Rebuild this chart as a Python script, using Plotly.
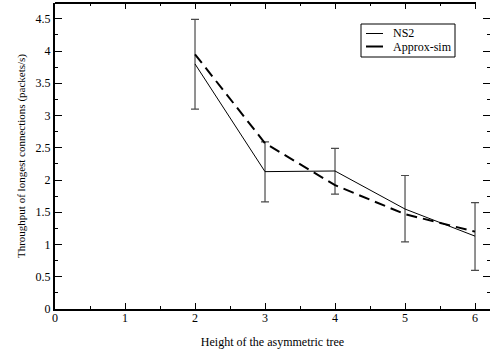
import plotly.graph_objects as go

heights = [2, 3, 4, 5, 6]
ns2 = [3.80, 2.13, 2.14, 1.55, 1.13]
ns2_err_hi = [4.49, 2.59, 2.49, 2.07, 1.65]
ns2_err_lo = [3.10, 1.66, 1.78, 1.04, 0.60]
approx_sim = [3.95, 2.57, 1.92, 1.47, 1.20]

x_ticks = [0, 1, 2, 3, 4, 5, 6]
y_ticks = [0, 0.5, 1, 1.5, 2, 2.5, 3, 3.5, 4, 4.5]
y_tick_text = ["0", "0.5", "1", "1.5", "2", "2.5", "3", "3.5", "4", "4.5"]
legend_names = ["NS2", "Approx-sim"]

font_family = "Liberation Serif, Times New Roman, serif"
X_MAX = 6.214
Y_MAX = 4.745

fig = go.Figure()
fig.add_trace(go.Scatter(
    x=heights, y=ns2, mode="lines", name=legend_names[0],
    line=dict(color="black", width=1),
    error_y=dict(type="data", symmetric=False,
                 array=[h - v for h, v in zip(ns2_err_hi, ns2)],
                 arrayminus=[v - l for v, l in zip(ns2, ns2_err_lo)],
                 color="#4a4a4a", thickness=1.2, width=4),
))
fig.add_trace(go.Scatter(
    x=heights, y=approx_sim, mode="lines", name=legend_names[1],
    line=dict(color="black", width=2, dash="11px,6px"),
))
# helper traces so the top / right tick axes are drawn
fig.add_trace(go.Scatter(x=heights, y=ns2, mode="none", xaxis="x2", yaxis="y",
                         showlegend=False, hoverinfo="skip"))
fig.add_trace(go.Scatter(x=heights, y=ns2, mode="none", xaxis="x", yaxis="y2",
                         showlegend=False, hoverinfo="skip"))

tickfont = dict(family=font_family, size=12, color="black")

fig.update_layout(
    xaxis=dict(
        range=[0, X_MAX], tickvals=x_ticks,
        showline=True, linecolor="black", linewidth=2, mirror=False,
        ticks="inside", ticklen=6, tickwidth=1, tickcolor="black",
        ticklabelstandoff=-3,
        minor=dict(ticks="inside", ticklen=3, dtick=0.5, tick0=0, tickcolor="black", showgrid=False),
        showgrid=False, zeroline=False, tickfont=tickfont,
        title=dict(text="Height of the asymmetric tree",
                   font=dict(family=font_family, size=12, color="black"), standoff=13),
    ),
    xaxis2=dict(
        range=[0, X_MAX], overlaying="x", anchor="y", side="top",
        showline=False,
        ticks="inside", ticklen=6, tickwidth=1, tickcolor="black",
        tickvals=x_ticks, showticklabels=False,
        minor=dict(ticks="inside", ticklen=3, dtick=0.5, tick0=0, tickcolor="black", showgrid=False),
        showgrid=False, zeroline=False,
    ),
    yaxis=dict(
        range=[0, Y_MAX], tickvals=y_ticks, ticktext=y_tick_text,
        showline=True, linecolor="black", linewidth=2, mirror=False,
        ticks="inside", ticklen=7, tickwidth=1, tickcolor="black",
        minor=dict(ticks="inside", ticklen=3, dtick=0.25, tick0=0, tickcolor="black", showgrid=False),
        showgrid=False, zeroline=False, tickfont=tickfont,
        title=dict(text="Throughput of longest connections (packets/s)",
                   font=dict(family=font_family, size=11, color="black"), standoff=8),
    ),
    yaxis2=dict(
        range=[0, Y_MAX], overlaying="y", anchor="x", side="right",
        showline=False, tickvals=y_ticks, showticklabels=False,
        ticks="inside", ticklen=7, tickwidth=1, tickcolor="black",
        minor=dict(ticks="inside", ticklen=3, dtick=0.25, tick0=0, tickcolor="black", showgrid=False),
        showgrid=False, zeroline=False,
    ),
)

# Legend and top frame drawn in paper coordinates (plot area: x 55..490 px, y 3..309 px)
def px(xp):
    return (xp - 55) / 435

def py(yp):
    return (309 - yp) / 306

shapes = [
    dict(type="line", xref="paper", yref="paper", x0=0, x1=px(476), y0=1, y1=1,
         line=dict(color="black", width=2), layer="above"),
    dict(type="rect", xref="paper", yref="paper", x0=px(361), x1=px(455), y0=py(57), y1=py(24),
         line=dict(color="black", width=1), fillcolor="white", layer="above"),
    dict(type="line", xref="paper", yref="paper", x0=px(366), x1=px(383), y0=py(33.5), y1=py(33.5),
         line=dict(color="black", width=1), layer="above"),
    dict(type="line", xref="paper", yref="paper", x0=px(366), x1=px(383), y0=py(46.5), y1=py(46.5),
         line=dict(color="black", width=2), layer="above"),
]
annotations = [
    dict(xref="paper", yref="paper", x=px(391), y=py(33.5), text=legend_names[0], showarrow=False,
         xanchor="left", yanchor="middle", font=dict(family=font_family, size=12, color="black")),
    dict(xref="paper", yref="paper", x=px(391), y=py(46.5), text=legend_names[1], showarrow=False,
         xanchor="left", yanchor="middle", font=dict(family=font_family, size=12, color="black")),
]

fig.update_layout(
    width=490, height=356,
    margin=dict(l=55, r=0, t=3, b=47, autoexpand=False),
    plot_bgcolor="rgba(0,0,0,0)", paper_bgcolor="white",
    showlegend=False,
    shapes=shapes, annotations=annotations,
    font=dict(family=font_family, color="black"),
)

fig.write_html("out.html")
